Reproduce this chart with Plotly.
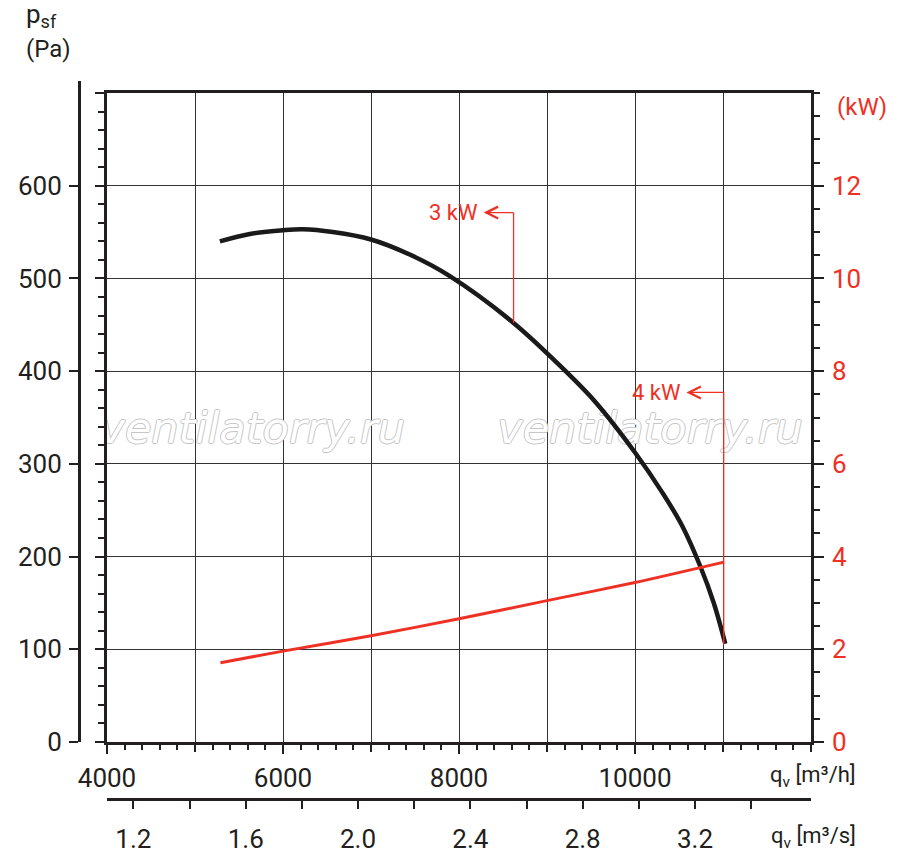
import plotly.graph_objects as go

# static pressure curve (m3/h, Pa)
q_psf = [5283, 5623, 6000, 6226, 6566, 7000, 7434, 7887, 8620, 9200, 9557, 10002, 10311, 10537, 10744, 10895, 11026]
psf = [540, 548, 552, 553, 550, 542, 526, 503, 452, 401, 366, 312, 269, 233, 189, 150, 106]

# shaft power curve (m3/h, kW)
q_kw = [5289, 6000, 7000, 8000, 9000, 10000, 11010]
kw = [1.71, 1.96, 2.29, 2.66, 3.05, 3.44, 3.88]

# power call-outs
kw_labels = ["3 kW", "4 kW"]
lead_q = [8620, 11008]
lead_bottom = [452, 105]
lead_top = [571, 377]
label_q = [7939, 10243]

# axis ticks
q_labels = [4000, 6000, 8000, 10000]
q_odd = [5000, 7000, 9000, 11000, 12000]
q_minor = list(range(4000, 12001, 200))
qs_labels = [1.2, 1.6, 2.0, 2.4, 2.8, 3.2]
qs_minor = [1.4, 1.8, 2.2, 2.6, 3.0, 3.4]
psf_ticks = [0, 100, 200, 300, 400, 500, 600]
kw_ticks = [0, 2, 4, 6, 8, 10, 12]

RED = "#ee3124"
INK = "#231f20"
FONT = "Roboto"

# paper spans 79..811 px across, 81..799 px down
W, H = 900, 859
L, R, T, B = 79, 89, 81, 60
pw, ph = W - L - R, H - T - B


def px(x):
    return (x - L) / pw


def py(y):
    return (H - B - y) / ph


fig = go.Figure()

# watermark, kept under the curves
fig.add_trace(go.Scatter(
    x=[5650, 10170], y=[334, 334], mode="text",
    text=["ventilatorry.ru", "ventilatorry.ru"],
    textfont=dict(family="DejaVu Sans", style="italic", size=43, color="white",
                  shadow="1px 0 #c6c6c6, -1px 0 #c6c6c6, 0 1px #c6c6c6, 0 -1px #c6c6c6"),
    hoverinfo="skip"))

fig.add_trace(go.Scatter(x=q_psf, y=psf, mode="lines",
                         line=dict(color="#1a1a1a", width=4.5, shape="spline", smoothing=1.0)))
fig.add_trace(go.Scatter(x=q_kw, y=kw, mode="lines", yaxis="y2",
                         line=dict(color=RED, width=3, shape="spline", smoothing=0.8)))

# leaders from the curve up, then an arrow back to the label
for i in range(len(kw_labels)):
    fig.add_trace(go.Scatter(x=[lead_q[i], lead_q[i]], y=[lead_bottom[i], lead_top[i]],
                             mode="lines", line=dict(color=RED, width=1.3)))
    fig.add_annotation(x=lead_q[i], y=lead_top[i], ax=label_q[i], ay=lead_top[i],
                       axref="x", ayref="y", text=kw_labels[i], showarrow=True,
                       arrowside="start", startarrowhead=5, startarrowsize=1.8,
                       arrowwidth=1.3, arrowcolor=RED, standoff=0, startstandoff=4,
                       font=dict(family=FONT, size=22, color=RED))

# dummy traces so the extra axes get drawn
fig.add_trace(go.Scatter(x=[2.0], y=[0], xaxis="x2", mode="markers",
                         marker=dict(opacity=0), hoverinfo="skip"))
fig.add_trace(go.Scatter(x=[0.5], y=[0], xaxis="x3", yaxis="y3", mode="markers",
                         marker=dict(opacity=0), hoverinfo="skip"))
fig.add_trace(go.Scatter(x=[5000], y=[0], xaxis="x4", mode="markers",
                         marker=dict(opacity=0), hoverinfo="skip"))

xdom = [px(107), 1]
ydom = [py(742), py(93)]
tickfont = dict(family=FONT, size=26, color=INK)
grid = dict(showgrid=True, gridcolor="#333", gridwidth=1.2, zeroline=False)

fig.update_layout(
    width=W, height=H,
    margin=dict(l=L, r=R, t=T, b=B, autoexpand=False),
    paper_bgcolor="white", plot_bgcolor="rgba(0,0,0,0)",
    showlegend=False,
    xaxis=dict(domain=xdom, range=[4000, 12000], anchor="y", automargin=False,
               tickmode="array", tickvals=q_labels, ticktext=[str(v) for v in q_labels],
               ticks="outside", ticklen=9, tickwidth=1.5, tickcolor=INK,
               showline=True, mirror=True, linewidth=2.5, linecolor=INK,
               tickfont=tickfont, ticklabelstandoff=2,
               minor=dict(tickvals=q_minor, ticks="outside", ticklen=5,
                          tickwidth=1.5, tickcolor=INK, showgrid=False),
               **grid),
    xaxis4=dict(overlaying="x", anchor="y", side="bottom", range=[4000, 12000], automargin=False,
                tickmode="array", tickvals=q_odd, showticklabels=False,
                ticks="outside", ticklen=9, tickwidth=1.5, tickcolor=INK,
                showline=False, **grid),
    xaxis2=dict(overlaying="x", anchor="free", position=0, side="bottom", automargin=False,
                range=[1.106, 3.613], tickmode="array", tickvals=qs_labels,
                ticktext=[f"{v:.1f}" for v in qs_labels],
                ticks="outside", ticklen=8, tickwidth=1.8, tickcolor=INK,
                showgrid=False, zeroline=False,
                showline=True, linewidth=2.5, linecolor=INK,
                tickfont=tickfont, ticklabelstandoff=8,
                minor=dict(tickvals=qs_minor, ticks="outside", ticklen=8,
                           tickwidth=1.8, tickcolor=INK, showgrid=False)),
    xaxis3=dict(domain=xdom, range=[0, 1], anchor="y3", visible=False, automargin=False),
    yaxis=dict(domain=ydom, range=[0, 700], anchor="x", automargin=False,
               tickmode="array", tickvals=psf_ticks + [700], showticklabels=False,
               ticks="outside", ticklen=9, tickwidth=1.5, tickcolor=INK,
               showline=True, mirror=True, linewidth=2.5, linecolor=INK,
               minor=dict(tickvals=list(range(0, 701, 20)), ticks="outside", ticklen=6,
                          tickwidth=1.5, tickcolor=INK, showgrid=False),
               **grid),
    yaxis2=dict(overlaying="y", side="right", anchor="x", range=[0, 14], automargin=False,
                tickmode="array", tickvals=kw_ticks,
                ticks="outside", ticklen=10, tickwidth=1.5, tickcolor=INK,
                showgrid=False, zeroline=False,
                showline=True, linewidth=2.5, linecolor=INK,
                tickfont=dict(family=FONT, size=26, color=RED), ticklabelstandoff=3,
                minor=dict(tickvals=[v / 2 for v in range(0, 29)], ticks="outside", ticklen=6,
                           tickwidth=1.5, tickcolor=INK, showgrid=False)),
    yaxis3=dict(domain=[py(742), 1], range=[0, 700 * (742 - 81) / (742 - 93)],
                anchor="free", position=0, side="left", automargin=False,
                tickmode="array", tickvals=psf_ticks,
                ticks="outside", ticklen=9, tickwidth=2, tickcolor=INK,
                showgrid=False, zeroline=False,
                showline=True, linewidth=3, linecolor=INK,
                tickfont=tickfont, ticklabelstandoff=2),
)

# axis titles
fig.add_annotation(xref="paper", yref="paper", x=px(24), y=py(31), xanchor="left", yanchor="middle",
                   align="left", showarrow=False, font=dict(family=FONT, size=26, color=INK),
                   text="p<sub>sf</sub><br><span style='font-size:24px'>(Pa)</span>")
fig.add_annotation(xref="paper", yref="paper", x=px(862), y=py(107), xanchor="center", yanchor="middle",
                   text="(kW)", showarrow=False, font=dict(family=FONT, size=24, color=RED))
fig.add_annotation(xref="paper", yref="paper", x=px(858), y=py(776), xanchor="right", yanchor="middle",
                   text="q<sub>v</sub> [m³/h]", showarrow=False, font=dict(family=FONT, size=22, color=INK))
fig.add_annotation(xref="paper", yref="paper", x=px(858), y=py(837), xanchor="right", yanchor="middle",
                   text="q<sub>v</sub> [m³/s]", showarrow=False, font=dict(family=FONT, size=22, color=INK))

fig.write_html("out.html", config={"displayModeBar": False},
               post_script="document.body.style.margin = '0'; document.body.style.overflow = 'hidden';")
